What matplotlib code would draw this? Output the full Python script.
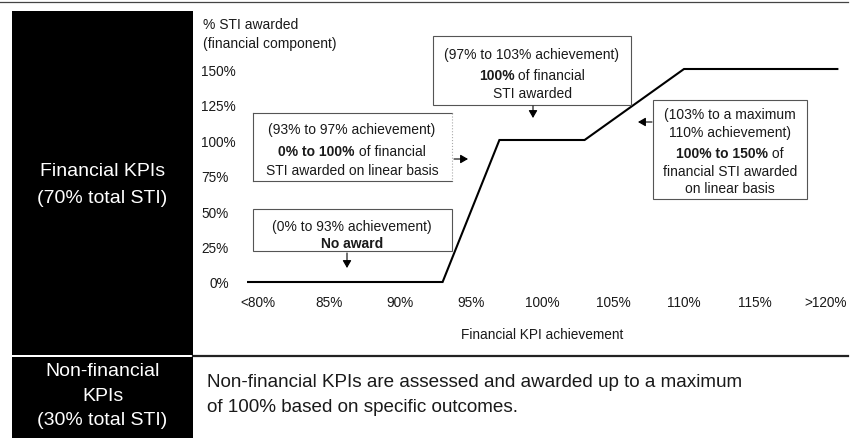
import matplotlib
matplotlib.use('Agg')
import matplotlib.pyplot as plt
import matplotlib.transforms as mtransforms
from matplotlib.patches import Rectangle, FancyArrowPatch
from matplotlib.lines import Line2D

plt.rcParams['font.family'] = ['Liberation Sans', 'DejaVu Sans']

# STI vesting curve (financial component)
achievement = [79.3, 93, 97, 103, 110, 120.8]
sti_awarded = [0, 0, 100, 100, 150, 150]

x_ticks = [80, 85, 90, 95, 100, 105, 110, 115, 120]
x_tick_labels = ['<80%', '85%', '90%', '95%', '100%', '105%', '110%', '115%', '>120%']
y_ticks = [0, 25, 50, 75, 100, 125, 150]
y_tick_labels = ['0%', '25%', '50%', '75%', '100%', '125%', '150%']

W, H = 850, 439
fig = plt.figure(figsize=(8.5, 4.39), dpi=100)
renderer = fig.canvas.get_renderer()
INK = '#1a1a1a'


def fx(px):
    return px / W


def fy(py):
    return 1 - py / H


def hline(x0, x1, y, lw=0.8, color='#333333'):
    fig.add_artist(Line2D([fx(x0), fx(x1)], [fy(y), fy(y)], color=color, lw=lw))


def vline(x, y0, y1, lw=0.8, color='#555555', ls='-'):
    fig.add_artist(Line2D([fx(x), fx(x)], [fy(y0), fy(y1)], color=color, lw=lw, ls=ls))


def box(x0, y0, x1, y1, fc='white', ec='#555555', lw=0.8):
    fig.add_artist(Rectangle((fx(x0), fy(y1)), fx(x1) - fx(x0), (y1 - y0) / H,
                             transform=fig.transFigure, facecolor=fc, edgecolor=ec, lw=lw))


def text_line(parts, cx, cy, size=10, color=INK, align='center'):
    # one line of text made of (string, weight) pieces
    widths = []
    for s, w in parts:
        t = fig.text(0, 0, s, fontsize=size, fontweight=w)
        widths.append(t.get_window_extent(renderer).width)
        t.remove()
    x = cx - sum(widths) / 2 if align == 'center' else cx
    for (s, w), wd in zip(parts, widths):
        fig.text(fx(x), fy(cy), s, fontsize=size, fontweight=w, color=color,
                 ha='left', va='center')
        x += wd


def arrow(x0, y0, x1, y1):
    fig.add_artist(FancyArrowPatch((fx(x0), fy(y0)), (fx(x1), fy(y1)),
                                   transform=fig.transFigure,
                                   arrowstyle='-|>,head_length=4.5,head_width=2.6',
                                   mutation_scale=1, lw=0.8, color='black',
                                   shrinkA=0, shrinkB=0))


# frame lines and black label panels
hline(0, 848, 3, lw=0.9, color='#444444')
box(12, 12, 193, 356, fc='black', ec='black', lw=0)
box(12, 358, 193, 439, fc='black', ec='black', lw=0)
hline(193, 848, 357, lw=1.6, color='#222222')

text_line([('Financial KPIs', 'normal')], 102.5, 172, size=14, color='white')
text_line([('(70% total STI)', 'normal')], 102.5, 199, size=14, color='white')
text_line([('Non-financial', 'normal')], 102.5, 372, size=14, color='white')
text_line([('KPIs', 'normal')], 102.5, 397, size=14, color='white')
text_line([('(30% total STI)', 'normal')], 102.5, 421, size=14, color='white')

text_line([('Non-financial KPIs are assessed and awarded up to a maximum', 'normal')],
          207, 383, size=13.6, align='left')
text_line([('of 100% based on specific outcomes.', 'normal')], 207, 408, size=13.6, align='left')

# chart
ax = fig.add_axes([fx(240), fy(290), fx(848) - fx(240), (290 - 60) / H])
ax.set_xlim(80 + (240 - 258) / 14.2, 80 + (848 - 258) / 14.2)
ax.set_ylim((283 - 290) / 1.42, (283 - 60) / 1.42)
ax.patch.set_alpha(0)
for s in ax.spines.values():
    s.set_visible(False)

ax.plot(achievement, sti_awarded, color='black', lw=1.5, solid_joinstyle='miter')

ax.set_xticks(x_ticks)
ax.set_xticklabels(x_tick_labels, fontsize=9.8, color=INK)
ax.set_yticks(y_ticks)
ax.set_yticklabels(y_tick_labels, fontsize=9.8, color=INK)
ax.tick_params(length=0)
ax.tick_params(axis='x', pad=4.5)
ax.tick_params(axis='y', pad=(240 - 201) * 0.72)
plt.setp(ax.get_yticklabels(), ha='left')
zero = ax.get_yticklabels()[0]
zero.set_transform(zero.get_transform() + mtransforms.ScaledTranslation(0.09, 0, fig.dpi_scale_trans))

text_line([('% STI awarded', 'normal')], 203, 25, size=10, align='left')
text_line([('(financial component)', 'normal')], 203, 44, size=10, align='left')
text_line([('Financial KPI achievement', 'normal')], 542, 335, size=9.8)

# annotation boxes
box(433, 37, 631, 106)
text_line([('(97% to 103% achievement)', 'normal')], 532, 55)
text_line([('100%', 'bold'), (' of financial', 'normal')], 532, 76)
text_line([('STI awarded', 'normal')], 532, 94)
arrow(533, 107, 533, 119)

# box with open right side
hline(253, 452, 114, color='#555555')
hline(253, 452, 182, color='#555555')
vline(253, 114, 182)
vline(452, 114, 182, color='#aaaaaa', ls=':')
text_line([('(93% to 97% achievement)', 'normal')], 352, 130)
text_line([('0% to 100%', 'bold'), (' of financial', 'normal')], 352, 152)
text_line([('STI awarded on linear basis', 'normal')], 352, 171)
arrow(454, 160, 468, 160)

box(653, 101, 807, 200)
text_line([('(103% to a maximum', 'normal')], 730, 115)
text_line([('110% achievement)', 'normal')], 730, 133)
text_line([('100% to 150%', 'bold'), (' of', 'normal')], 730, 154)
text_line([('financial STI awarded', 'normal')], 730, 172)
text_line([('on linear basis', 'normal')], 730, 189)
arrow(652, 123, 638, 123)

box(253, 210, 452, 252)
text_line([('(0% to 93% achievement)', 'normal')], 352, 227)
text_line([('No award', 'bold')], 352, 244)
arrow(347, 254, 347, 269)

fig.savefig('out.png', dpi=100)
